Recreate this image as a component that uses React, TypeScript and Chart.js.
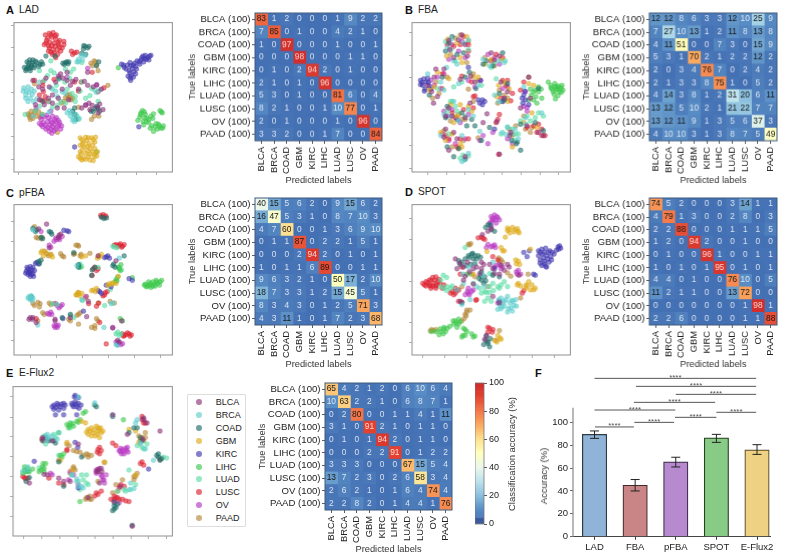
import React, { useEffect, useRef } from "react";
import { Chart, registerables } from "chart.js";

Chart.register(...registerables);

const FONT = "'Liberation Sans', Arial, sans-serif";
const classes = ["BLCA", "BRCA", "COAD", "GBM", "KIRC", "LIHC", "LUAD", "LUSC", "OV", "PAAD"];
const rowLabels = classes.map((c) => `${c} (100)`);
const classColors = ["138,50,120", "95,205,205", "30,110,105", "222,170,25", "65,55,175", "60,200,75", "90,220,165", "220,35,50", "185,55,195", "180,135,55"];

const matrixA = [
  [83, 1, 2, 0, 0, 0, 1, 9, 2, 2],
  [7, 85, 0, 1, 0, 0, 4, 2, 1, 0],
  [1, 0, 97, 0, 0, 0, 1, 0, 0, 1],
  [0, 0, 0, 98, 0, 0, 0, 1, 1, 0],
  [0, 1, 0, 2, 94, 2, 0, 1, 0, 0],
  [2, 1, 0, 1, 0, 96, 0, 0, 0, 0],
  [5, 3, 0, 1, 0, 0, 81, 6, 0, 4],
  [8, 2, 1, 0, 0, 1, 10, 77, 0, 1],
  [2, 0, 1, 0, 0, 0, 1, 0, 96, 0],
  [3, 3, 2, 0, 0, 1, 7, 0, 0, 84],
];
const matrixB = [
  [12, 12, 8, 6, 3, 3, 12, 10, 25, 9],
  [7, 27, 10, 13, 1, 2, 11, 8, 13, 8],
  [4, 11, 51, 0, 0, 7, 3, 0, 15, 9],
  [5, 3, 1, 70, 2, 1, 2, 2, 12, 2],
  [2, 0, 3, 4, 76, 7, 0, 2, 4, 2],
  [2, 1, 3, 3, 8, 75, 1, 0, 5, 2],
  [4, 14, 3, 8, 1, 2, 31, 20, 6, 11],
  [13, 12, 5, 10, 2, 1, 21, 22, 7, 7],
  [13, 12, 11, 9, 1, 3, 5, 6, 37, 3],
  [4, 10, 10, 3, 1, 3, 8, 7, 5, 49],
];
const matrixC = [
  [40, 15, 5, 6, 2, 0, 9, 15, 6, 2],
  [16, 47, 5, 3, 1, 0, 8, 7, 10, 3],
  [4, 7, 60, 0, 0, 1, 3, 6, 9, 10],
  [0, 1, 1, 87, 0, 2, 2, 1, 5, 1],
  [0, 0, 0, 2, 94, 2, 0, 1, 0, 1],
  [1, 0, 1, 1, 6, 89, 0, 0, 1, 1],
  [9, 6, 3, 2, 1, 0, 50, 17, 2, 10],
  [18, 7, 3, 3, 1, 2, 15, 45, 5, 1],
  [8, 3, 4, 3, 0, 1, 2, 5, 71, 3],
  [4, 3, 11, 1, 0, 1, 7, 2, 3, 68],
];
const matrixD = [
  [74, 5, 2, 0, 0, 0, 3, 14, 1, 1],
  [4, 79, 1, 3, 0, 0, 2, 8, 0, 3],
  [2, 2, 88, 0, 0, 0, 1, 1, 1, 5],
  [1, 2, 0, 94, 2, 0, 0, 1, 0, 0],
  [0, 1, 0, 0, 96, 1, 0, 0, 1, 1],
  [1, 0, 1, 0, 1, 95, 0, 1, 0, 1],
  [4, 4, 0, 1, 0, 0, 76, 10, 0, 5],
  [11, 2, 1, 1, 0, 0, 13, 72, 0, 0],
  [0, 0, 0, 0, 0, 0, 0, 1, 98, 1],
  [2, 2, 6, 0, 0, 0, 0, 1, 1, 88],
];
const matrixE = [
  [65, 4, 2, 1, 2, 0, 6, 10, 6, 4],
  [10, 63, 2, 2, 1, 0, 6, 8, 7, 1],
  [0, 2, 80, 0, 0, 1, 1, 4, 1, 11],
  [3, 1, 0, 91, 2, 1, 0, 1, 1, 0],
  [0, 1, 0, 1, 94, 2, 0, 1, 1, 0],
  [0, 0, 0, 2, 2, 91, 0, 1, 2, 2],
  [3, 3, 3, 0, 0, 0, 67, 15, 5, 4],
  [13, 7, 2, 3, 0, 2, 6, 58, 3, 4],
  [2, 6, 2, 1, 0, 1, 6, 4, 74, 4],
  [2, 2, 8, 2, 0, 1, 4, 4, 1, 76],
];

// t-SNE embeddings, one flat x,y list per class, in arbitrary embedding units
const tsneA = [
  [185,215,178,222,192,228,205,235,170,240,150,255,130,262,215,250,240,262,268,250,296,248,310,262,282,312,298,318,272,305,262,312,232,232,120,295,108,310,148,290,190,262,205,210,160,305,175,320,300,335,268,210,196,320,100,235,140,228,222,238,258,238,285,255,160,280,178,290,210,295,250,320,275,325,305,308,315,325,135,310,118,255],
  [72,258,80,268,78,280,88,272,95,262,92,290,85,300,104,268,205,335,215,345,225,352,232,340,228,362,240,170,248,158,240,178,100,345,295,272,305,265,120,240,190,270,170,268,150,332,260,158,112,292,70,268,85,255,78,290,98,278,102,300,218,335,222,358,242,352,212,328,235,178,252,172,155,258,175,285,200,275],
  [82,178,90,172,98,180,86,190,95,195,80,200,92,205,105,188,112,180,122,186,130,185,100,172,78,205,200,180,208,184,196,186,204,178,260,130,268,135,255,138,250,152,262,155,290,322,300,322,278,330,228,320,228,340,180,228,295,190,302,178,140,160,168,160,88,182,96,188,104,196,84,196,90,198,108,176,118,192,126,178,74,195,192,182,210,178,256,128,272,130,285,330,296,315,305,330,222,330,232,355,130,300],
  [245,412,265,420,280,412,292,410,255,425,272,430,290,425,245,435,258,440,275,445,245,455,262,460,282,455,298,455,240,470,255,475,270,470,288,470,250,480,285,482,296,468,262,410,250,418,270,412,285,418,252,432,268,438,283,435,252,448,268,452,290,445,248,462,275,462,290,462,262,478,275,480,245,475],
  [372,185,380,195,390,188,398,180,412,182,415,192,405,198,395,205,410,208,402,220,392,222,415,215,400,235,420,175,432,172,438,160,445,158,452,165,462,158,448,170,440,178,428,185,228,440,425,378,378,188,386,200,400,190,408,188,398,212,408,225,398,228,418,200,426,178,442,168,458,160,456,172,434,165],
  [436,328,445,340,428,348,422,358,438,362,450,352,462,345,470,338,455,365,465,375,478,368,488,375,498,382,482,385,470,392,490,328,497,335,440,372,430,340,362,196,295,455,432,335,442,350,448,362,456,355,442,332,468,352,460,382,475,378,492,382,485,370,500,375,494,332],
  [155,205,165,212,145,220,200,200,215,210,225,200,172,250,160,262,185,300,200,305,150,300,130,340,230,300,250,240,220,275,245,268,300,300,280,260,290,265,108,328,76,340,240,355,235,345,155,175,250,180,120,205,135,235,180,232,198,240,212,228,120,315,160,318,175,312,205,262,230,285,262,290,275,282],
  [138,95,150,90,162,88,172,95,145,105,158,102,170,108,182,112,195,115,140,120,152,118,165,120,178,125,190,135,150,135,162,140,175,140,135,125,160,155,170,165,185,145,218,145,228,150,235,148,105,235,130,240,132,270,125,295,138,285,165,232,248,240,228,240,300,270,282,210,318,258,148,300,142,112,155,95,168,98,178,118,148,128,158,128,168,130,182,132,195,125,155,148,176,155,165,150,148,145,222,155,130,250,135,298,120,280,240,268],
  [125,355,135,348,148,350,160,345,172,350,120,368,132,365,145,362,158,365,170,362,182,365,130,378,145,380,160,378,175,378,188,375,150,392,165,390,110,320,262,310,295,250,268,198,155,330,205,225,128,345,142,342,155,358,168,355,178,358,126,372,138,372,152,372,165,370,180,372,140,385,155,385,170,385,185,385,158,398],
  [85,338,95,330,105,335,118,332,128,340,90,348,100,352,112,345,205,280,215,285,208,292,195,300,218,295,288,175,295,188,282,190,300,205,288,345,280,355,302,345,330,250,188,305,175,395,105,245,240,318,88,342,98,342,108,328,122,348,92,355,200,288,212,278,222,290,292,178,278,182],
];
const tsneB = [
  [165,112,205,95,215,125,180,165,295,150,320,160,125,200,112,270,118,305,150,200,232,222,245,240,325,240,345,270,410,225,385,320,165,320,175,345,215,350,155,385,190,415,165,450,270,365,282,338,312,362,405,375,440,395,352,405,320,462,195,110,168,140,222,160,305,172,120,225,130,285,200,232,335,290,415,290,155,345,230,305,150,410,180,395,215,470,355,395,455,405],
  [160,135,225,110,190,185,270,170,335,180,158,195,140,240,195,245,305,280,180,300,150,340,225,325,240,345,345,380,330,395,368,385,378,415,212,480,205,485,225,460,400,350,450,335,260,392,340,402,172,108,210,120,180,175,290,190,320,175,100,215,150,265,255,250,318,300,395,255,170,345,195,360,140,405,205,405,400,370,362,402],
  [175,100,210,150,300,190,280,175,155,145,145,225,228,210,248,260,320,275,335,295,160,315,205,335,220,375,245,375,372,430,385,450,358,420,160,440,180,470,430,365,265,420,290,380,165,120,190,155,330,150,270,185,105,280,215,225,345,245,440,260,235,355,155,350,195,445,215,478,385,370,455,390,375,425],
  [190,120,158,160,200,165,325,170,275,185,120,255,165,230,240,225,318,250,350,262,345,300,200,310,225,315,235,330,180,365,140,395,175,400,200,430,360,440,410,245,420,335,395,365,162,108,220,100,205,180,295,170,130,210,105,265,255,225,335,240,312,285,425,250,190,345,170,310,155,420,205,440,360,405,435,380],
  [78,235,88,230,95,240,85,250,100,228,92,262,105,252,395,280,400,295,392,305,268,295,260,305,275,300,305,385,262,235,82,242,90,268,398,268,110,262,78,248,102,240,390,290,410,310,255,295,268,310,330,300,225,195,190,355],
  [478,250,490,245,500,252,510,258,482,262,495,265,505,270,515,265,488,278,500,282,492,292,470,240,418,280,430,265,425,295,440,270,415,262,448,262,432,285,495,255,485,270,505,258,498,262,510,272,478,258,490,255,512,250,425,270,410,295,435,305,450,290,440,255],
  [172,140,225,140,305,180,338,175,205,240,180,255,310,230,170,300,185,315,160,330,345,378,360,385,325,400,370,400,378,400,208,465,225,468,430,350,455,345,415,360,385,360,175,300,185,175,155,115,295,195,130,260,265,250,330,300,190,330,215,345,165,400,355,400,368,420,200,475,405,345,440,335],
  [210,100,200,125,225,145,160,125,310,155,330,165,145,215,235,240,330,235,340,250,325,290,315,355,310,365,320,340,210,325,185,350,240,285,165,415,200,415,225,415,440,370,450,385,435,395,460,405,385,265,360,275,245,283,318,463,180,130,225,125,295,175,100,250,205,222,345,235,355,298,395,240,175,335,240,320,155,405,190,440,405,380,425,375,450,405],
  [175,125,195,145,215,165,285,155,305,165,130,225,150,215,110,235,225,235,262,235,330,260,395,315,405,330,160,345,175,325,225,340,145,400,185,430,165,420,260,420,285,430,300,395,345,415,205,115,165,170,320,185,120,250,140,260,245,255,345,255,400,270,405,318,150,330,200,365,215,415,360,430,270,405],
  [185,105,170,155,220,180,305,190,125,240,135,275,115,290,240,215,225,262,320,265,335,280,345,290,215,355,240,300,195,340,150,390,175,440,195,445,255,412,350,385,420,380,400,385,410,225,225,115,200,95,275,165,145,260,160,225,255,235,315,305,395,345,170,360,205,355,210,420,370,375,415,395],
];
const tsneC = [
  [142,107,118,122,178,150,92,395,98,400,110,410,168,400,215,395,265,392,185,138,150,180,360,465,300,205,372,405,345,427,355,220,270,345,100,395,88,400,168,405,180,142,365,470],
  [88,330,95,328,100,335,92,340,250,340,115,418,100,125,365,212,318,425,340,352,355,478,235,235,85,335,98,342,95,330,360,480,345,350],
  [310,86,318,90,326,88,100,120,108,130,150,130,158,138,130,152,118,222,125,218,345,235,352,240,380,205,290,240,280,265,225,195,240,240,93,335,190,395,215,385,112,125,155,132,125,148,120,228,348,230,282,248,240,232,95,330],
  [305,208,298,212,310,200,285,310,295,305,240,322,250,320,232,325,335,290,345,288,355,290,140,195,128,190,160,208,132,205,250,208,262,205,362,268,302,205,292,315,280,312,245,328,238,318,330,295,342,292,125,195,155,202],
  [85,245,92,238,100,240,80,252,88,255,95,262,105,250,92,250,100,260,85,262,118,230,108,228,195,126,210,130,330,205,320,210,335,212,300,312,310,320,340,300,325,295,395,275,405,280,192,398,255,375,82,240,98,248,90,258,78,258,102,268,92,268,112,225,205,128,325,208,305,315],
  [445,292,452,298,460,290,468,285,478,280,490,285,488,295,475,298,462,302,455,285,360,270,358,282,352,285,368,250,362,240,375,405,368,398,245,240,405,272,370,232,448,300,458,295,472,292,482,290,468,298,480,285,442,295,495,280,355,278,365,245],
  [350,178,358,180,372,248,245,230,240,235,300,240,338,308,320,358,215,388,225,395,360,440,370,445,252,342,160,352,175,355,345,175,365,240,250,238,365,450,355,445],
  [308,80,316,78,324,82,355,170,365,172,375,175,380,170,372,178,290,240,300,245,282,265,322,318,315,328,328,315,271,352,302,350,295,360,375,445,385,448,395,445,402,448,378,452,325,476,110,398,305,410,312,84,320,86,360,175,368,168,350,172,285,245,295,250,320,325,380,450,390,442,398,452],
  [125,130,172,155,180,148,190,145,165,160,150,172,155,178,175,358,185,360,190,355,155,378,150,385,165,420,172,420,178,418,360,478,370,478,355,470,345,425,262,330,182,155,170,150,180,365,170,352,158,385,145,382,168,425,175,425,362,472,375,475],
  [105,115,115,150,128,148,135,190,148,205,185,198,195,208,225,200,232,172,240,175,245,205,275,197,240,318,260,335,100,352,122,352,120,362,155,355,165,352,135,385,215,405,240,385,245,380,240,415,295,398,290,428,280,425,337,345,350,350,300,350,115,405,110,148,125,152,142,198,155,200,190,205,228,198,238,172,248,200,235,325,265,330,105,358,115,348,150,350,130,380,210,400,235,388,290,420,300,405],
];
const tsneD = [
  [198,228,210,240,190,245,228,255,250,240,272,232,300,245,320,262,335,250,345,232,280,450,275,462,295,122,285,130,265,225,240,292,215,268,300,330,200,345,380,265,320,350,268,140,185,215,222,225,265,245,290,232,325,235,260,260,210,280,240,245,350,240,305,260],
  [205,355,230,340,315,370,325,335,335,345,345,330,358,342,370,340,320,355,335,360,348,368,360,375,345,378,355,365,372,360,325,368,250,300,190,310,300,225,270,265,225,240,208,262,330,350,340,340,352,350,365,358,328,362,318,340,362,345,275,300,210,290],
  [235,200,245,205,228,210,240,215,250,215,195,220,205,225,218,235,232,232,262,265,275,270,265,280,272,290,285,110,295,125,305,130,280,452,285,475,278,465,290,485,205,350,320,270,245,230,300,265,225,205,238,198,255,205,262,210,200,232,215,215,265,255,258,275,278,282,292,110,278,118,285,470,292,460,272,478],
  [345,120,360,118,375,122,380,135,352,135,365,132,338,148,325,180,335,190,372,230,382,232,370,218,410,285,420,295,405,298,430,305,415,310,375,295,385,298,315,450,325,462,305,465,415,185,282,192,240,262,350,125,368,125,378,130,345,128,330,190,378,222,402,295,425,310,400,305,378,290,322,458,312,470],
  [440,190,450,185,462,182,475,190,440,205,452,200,465,205,478,208,488,200,445,218,458,222,472,225,450,235,462,238,500,178,508,182,495,188,405,208,412,190,395,195,425,262,430,265,305,245,320,345,445,195,458,195,470,195,482,195,455,212,468,215,480,218,445,228,458,230,465,240,502,185,505,175],
  [112,438,125,438,138,430,150,430,148,445,135,448,168,422,185,405,195,400,180,415,195,415,210,428,220,438,235,445,245,452,215,450,205,455,220,262,150,425,140,438,155,438,160,428,188,412,178,405,200,408,190,425,215,432,240,455,208,450],
  [148,265,158,272,150,305,158,312,170,305,140,300,265,320,275,315,290,300,315,300,325,295,335,285,295,345,285,335,260,305,240,290,215,180,290,260,300,262,230,260,140,280,160,300,175,298,280,318,302,312,290,318,320,305,300,290,345,300,275,345],
  [85,290,95,285,105,280,115,272,125,270,135,278,95,298,105,295,118,290,128,295,138,290,110,305,125,305,150,295,175,315,185,320,195,310,180,325,255,150,265,148,275,155,195,345,205,348,250,340,248,342,395,312,390,320,290,428,298,440,285,440,205,240,200,262,300,208,315,218,90,295,100,288,110,280,122,280,132,285,108,298,115,298,125,298,145,305,170,320,190,312,185,305,270,152,285,425,300,432],
  [295,85,305,80,315,88,300,95,320,95,310,105,290,105,300,175,285,170,280,180,308,180,225,320,235,315,215,325,240,310,305,240,320,232,330,240,378,250,385,262,375,262,320,345,315,350,295,115,225,305,300,90,312,85,295,100,308,95,295,178,305,172,228,325,222,315,310,235,325,245,372,255],
  [118,435,108,436,125,432,220,372,230,372,215,385,212,398,318,212,325,218,330,225,225,170,232,168,285,300,205,300,245,270,355,268,345,258,385,335,408,262,320,435,310,465,235,262,112,432,220,378,218,390,205,405,320,222,228,172],
];
const tsneE = [
  [130,200,160,205,240,215,300,293,312,300,490,175,405,468,345,125,440,135,450,150,135,308,180,320,215,330,350,392,300,300,270,380,390,185,437,200,90,335,305,335,368,345,145,310,195,330,310,290,295,300,440,140,130,195],
  [140,190,150,195,175,200,180,180,240,70,290,88,420,140,430,215,445,230,395,355,410,352,240,345,255,350,70,298,85,285,345,125,220,310,235,322,470,265,400,335,140,205,145,185,160,190,85,295,430,210,415,150,250,345,235,330],
  [130,205,150,205,170,212,290,95,345,130,395,180,410,165,430,195,480,250,490,265,485,255,80,330,90,318,350,405,345,420,360,400,195,345,250,255,350,415,295,100,405,465,180,270,140,195,165,205,420,165,435,205,495,260,485,245,355,410,350,395],
  [270,170,280,165,295,160,308,165,315,175,285,180,298,185,270,185,305,195,250,145,262,150,430,200,425,210,395,170,415,175,128,200,205,210,320,270,415,310,185,265,220,295,275,175,288,172,300,175,310,180,280,190,292,190,305,170,265,178,300,165],
  [165,95,175,90,185,100,195,90,165,108,180,110,195,105,220,90,230,85,240,90,225,100,235,100,248,95,230,65,240,72,170,125,195,125,235,125,230,210,238,225,105,268,240,350,455,292,160,100,170,102,178,95,188,92,200,95,222,95,232,92,242,105,228,70],
  [205,155,215,150,225,160,235,145,245,140,210,165,255,120,262,115,185,250,195,245,75,295,85,290,130,285,140,275,125,295,135,300,70,305,245,392,378,140,180,180,190,255,100,292,90,300,212,158,222,152,240,148,75,285,85,298,135,290,132,275,120,300,78,300],
  [150,200,165,185,140,215,215,165,265,310,255,325,245,355,270,340,380,355,400,355,415,340,435,225,450,215,500,255,510,258,85,300,120,288,180,250,135,190,395,295,240,330,170,195,220,310,250,310,265,335,420,220,440,230,360,360,385,360],
  [75,318,85,320,195,340,150,320,205,235,305,225,310,235,298,240,345,212,355,220,435,130,445,150,430,275,440,280,370,340,380,345,365,350,350,375,365,385,385,390,395,392,300,370,290,375,340,385,440,150,490,262,135,205,305,245,70,315,78,322,180,335,205,232,300,232,355,380,350,385,360,380,375,385,310,360,295,365,435,140,435,270],
  [365,235,375,232,385,228,380,245,392,240,372,245,300,295,295,305,310,310,315,325,320,335,325,310,215,300,225,310,210,325,155,305,240,340,390,225,365,395,160,310,368,238,378,238,388,235,370,228,295,295,305,290,312,315,318,325],
  [265,380,280,385,205,215,225,235,255,250,270,255,280,250,225,290,215,305,415,315,420,305,225,285,320,272,180,265,435,195,440,205,445,180,410,325,275,375,300,330,360,360,375,325,345,365,245,240,212,220,235,238,265,245,270,248,262,385,275,385,355,340,410,315,430,205,445,195,425,190,230,295],
];

const barLabels = ["LAD", "FBA", "pFBA", "SPOT", "E-Flux2"];
const barValues = [89.5, 45, 65.5, 86.5, 76];
const barLow = [86, 40, 61, 82.5, 72];
const barHigh = [92.5, 50, 69.5, 89.5, 80.5];
const barFill = ["#8fb4d8", "#c98585", "#b78ad0", "#87cb86", "#eed183"];
const barEdge = ["#2f3a45", "#46282a", "#3c2a4a", "#24421f", "#5a4c28"];
const sigStart = [0, 1.02, 2, 0.97, 0, 3, 1.98, 0.98, 0.01];
const sigEnd = [3.98, 3.98, 3.98, 2.97, 1.99, 3.98, 3, 1.96, 0.97];
const sigLevel = [138.5, 131.5, 124.5, 117.5, 110.8, 108.8, 104.4, 100, 96];

const colorStops: number[][] = [
  [0, 68, 112, 180], [10, 88, 140, 196], [20, 140, 192, 222], [30, 188, 226, 236], [40, 235, 247, 235],
  [50, 255, 255, 190], [60, 254, 224, 144], [70, 251, 170, 95], [80, 244, 118, 72], [90, 228, 68, 48], [100, 205, 40, 42],
];
function heat(v: number): string {
  for (let i = 1; i < colorStops.length; i++) {
    const a = colorStops[i - 1], b = colorStops[i];
    if (v <= b[0]) {
      const t = (v - a[0]) / (b[0] - a[0]);
      return `rgb(${[1, 2, 3].map((k) => Math.round(a[k] + (b[k] - a[k]) * t)).join(",")})`;
    }
  }
  return "rgb(205,40,42)";
}

const fixAxis = (size: number, horizontal: boolean) => (s: any) => {
  if (horizontal) s.height = size; else s.width = size;
  s.paddingLeft = s.paddingRight = s.paddingTop = s.paddingBottom = 0;
};
const setTicks = (values: number[]) => (s: any) => { s.ticks = values.map((value) => ({ value })); };

const framePlugin = (color: string, lw: number) => ({
  id: "frame",
  afterDraw(c: any) {
    const { left, top, width, height } = c.chartArea;
    const g = c.ctx;
    g.save(); g.strokeStyle = color; g.lineWidth = lw; g.strokeRect(left, top, width, height); g.restore();
  },
});

function scatterConfig(points: number[][], xr: number[], yr: number[], xt: number[], yt: number[]) {
  const datasets = points.map((flat, k) => {
    const data: { x: number; y: number }[] = [];
    for (let i = 0; i < flat.length; i += 2) data.push({ x: flat[i], y: flat[i + 1] });
    return {
      label: classes[k], data, pointRadius: 2.4, pointBorderWidth: 0.6,
      backgroundColor: `rgba(${classColors[k]},0.6)`, borderColor: `rgba(${classColors[k]},0.55)`,
    };
  });
  const tickGrid = { drawOnChartArea: false, drawTicks: true, tickLength: 3, color: "#999", lineWidth: 0.8 };
  return {
    type: "scatter",
    data: { datasets },
    options: {
      responsive: false, animation: false, layout: { padding: { top: 1, right: 1 } },
      plugins: { legend: { display: false }, tooltip: { enabled: false } },
      scales: {
        x: { type: "linear", min: xr[0], max: xr[1], grid: tickGrid, border: { display: false },
          ticks: { callback: () => "", padding: 0, autoSkip: false, maxRotation: 0 }, afterBuildTicks: setTicks(xt), afterFit: fixAxis(6, true) },
        y: { type: "linear", reverse: true, min: yr[0], max: yr[1], grid: tickGrid, border: { display: false },
          ticks: { callback: () => "", padding: 0, autoSkip: false }, afterBuildTicks: setTicks(yt), afterFit: fixAxis(6, false) },
      },
    },
    plugins: [framePlugin("#999", 1.1)],
  };
}

function heatConfig(matrix: number[][]) {
  const datasets = classes.map((c, j) => ({
    label: c, data: rowLabels.map(() => 1), backgroundColor: matrix.map((row) => heat(row[j])),
    barPercentage: 1, categoryPercentage: 1, borderWidth: 0,
  }));
  const cellText = {
    id: "cellText",
    beforeDatasetsDraw(c: any) {
      const { left, top, width, height } = c.chartArea;
      c.ctx.save(); c.ctx.fillStyle = "#4c7cbc"; c.ctx.fillRect(left, top, width, height); c.ctx.restore();
    },
    afterDatasetsDraw(c: any) {
      const g = c.ctx, xs = c.scales.x, ys = c.scales.y;
      g.save();
      g.font = `8.4px ${FONT}`; g.textAlign = "center"; g.textBaseline = "middle";
      matrix.forEach((row, i) => row.forEach((v, j) => {
        g.fillStyle = v <= 10 || v >= 90 ? "rgba(255,255,255,0.8)" : "#1a1a1a";
        g.fillText(String(v), xs.getPixelForValue(j + 0.5), ys.getPixelForValue(i) - 0.4);
      }));
      g.restore();
    },
  };
  const labelFont = { family: FONT, size: 9.3 };
  const tickGrid = { drawOnChartArea: false, drawTicks: true, tickLength: 3, color: "#333", lineWidth: 0.8 };
  return {
    type: "bar",
    data: { labels: rowLabels, datasets },
    options: {
      indexAxis: "y", responsive: false, animation: false, layout: { padding: { top: 1, right: 1 } },
      plugins: { legend: { display: false }, tooltip: { enabled: false } },
      scales: {
        x: { type: "linear", stacked: true, min: 0, max: 10, grid: tickGrid, border: { display: false },
          ticks: { callback: (v: number) => classes[Math.floor(v)], autoSkip: false, minRotation: 90, maxRotation: 90, padding: 3, color: "#222", font: { family: FONT, size: 9.4 } },
          afterBuildTicks: setTicks(classes.map((_, j) => j + 0.5)),
          title: { display: true, text: "Predicted labels", color: "#333", font: labelFont, padding: 0 }, afterFit: fixAxis(45, true) },
        y: { stacked: true, grid: { ...tickGrid, offset: false }, border: { display: false },
          ticks: { autoSkip: false, padding: 1.5, color: "#222", font: { family: FONT, size: 9.6 } },
          title: { display: true, text: "True labels", color: "#333", font: labelFont, padding: 0 }, afterFit: fixAxis(68, false) },
      },
    },
    plugins: [cellText, framePlugin("#3e5a7c", 1)],
  };
}

function colorbarConfig() {
  const levels = Array.from({ length: 100 }, (_, i) => i);
  return {
    type: "bar",
    data: {
      labels: ["scale"],
      datasets: levels.map((l) => ({ data: [1], backgroundColor: l < 4 ? "rgb(60,90,160)" : heat(l + 0.5), barPercentage: 1, categoryPercentage: 1, borderWidth: 0 })),
    },
    options: {
      responsive: false, animation: false, layout: { padding: { top: 6, bottom: 6 } },
      plugins: { legend: { display: false }, tooltip: { enabled: false } },
      scales: {
        x: { stacked: true, display: false },
        y: { stacked: true, position: "right", min: 0, max: 100, grid: { drawOnChartArea: false, drawTicks: true, tickLength: 3, color: "#333", lineWidth: 0.8 },
          border: { display: false }, ticks: { stepSize: 20, padding: 2, color: "#222", font: { family: FONT, size: 9 } }, afterFit: fixAxis(24, false) },
      },
    },
    plugins: [framePlugin("#777", 0.8)],
  };
}

function barConfig() {
  const extras = {
    id: "extras",
    afterDatasetsDraw(c: any) {
      const g = c.ctx, xs = c.scales.x, ys = c.scales.y;
      g.save();
      barValues.forEach((_, i) => {
        const x = xs.getPixelForValue(i), hi = ys.getPixelForValue(barHigh[i]), lo = ys.getPixelForValue(barLow[i]);
        g.strokeStyle = "#222"; g.lineWidth = 1;
        g.beginPath();
        g.moveTo(x, hi); g.lineTo(x, lo);
        g.moveTo(x - 4.5, hi); g.lineTo(x + 4.5, hi);
        g.moveTo(x - 4.5, lo); g.lineTo(x + 4.5, lo);
        g.stroke();
      });
      g.font = `8px ${FONT}`; g.textAlign = "center"; g.textBaseline = "alphabetic"; g.fillStyle = "#555";
      sigLevel.forEach((lv, i) => {
        g.fillText("****", xs.getPixelForValue((sigStart[i] + sigEnd[i]) / 2), ys.getPixelForValue(lv) + 1.5);
      });
      g.restore();
    },
  };
  const sigSets = sigLevel.map((lv, i) => ({
    type: "line", data: [{ x: sigStart[i], y: lv }, { x: sigEnd[i], y: lv }], borderColor: "#555", borderWidth: 1, pointRadius: 0, clip: false,
  }));
  const spine = { type: "line", data: [{ x: -0.53, y: 0 }, { x: -0.53, y: 112.8 }], borderColor: "#888", borderWidth: 1.2, pointRadius: 0, clip: false };
  const tickFont = { family: FONT, size: 9.5 };
  return {
    type: "bar",
    data: {
      datasets: [
        { type: "bar", data: barValues.map((y, x) => ({ x, y })), backgroundColor: barFill, borderColor: barEdge, borderWidth: 1.2, barThickness: 24.4 },
        ...sigSets, spine,
      ],
    },
    options: {
      responsive: false, animation: false, layout: { padding: { right: 17 } },
      plugins: { legend: { display: false }, tooltip: { enabled: false } },
      scales: {
        x: { type: "linear", offset: false, min: -0.53, max: 4.32, grid: { offset: false, drawOnChartArea: false, drawTicks: true, tickLength: 3, color: "#333" },
          border: { display: true, color: "#444", width: 1 },
          ticks: { callback: (v: number) => barLabels[v], autoSkip: false, maxRotation: 0, padding: 1.5, color: "#222", font: tickFont },
          afterBuildTicks: setTicks(barLabels.map((_, i) => i)), afterFit: fixAxis(19.3, true) },
        y: { min: 0, max: 145.8, grid: { drawOnChartArea: false, drawTicks: true, tickLength: 3, color: "#666" }, border: { display: false },
          ticks: { padding: 2, color: "#222", font: tickFont }, afterBuildTicks: setTicks([0, 20, 40, 60, 80, 100]), afterFit: fixAxis(33, false) },
      },
    },
    plugins: [extras],
  };
}

function Plot({ left, top, width, height, make }: { left: number; top: number; width: number; height: number; make: () => any }) {
  const ref = useRef<HTMLCanvasElement>(null);
  useEffect(() => {
    const chart = new Chart(ref.current as HTMLCanvasElement, make());
    return () => chart.destroy();
  }, []);
  return <canvas ref={ref} width={width} height={height} style={{ position: "absolute", left, top, width, height, display: "block" }} />;
}

function Scatter({ f, points, xr, yr, xt, yt }: { f: number[]; points: number[][]; xr: number[]; yr: number[]; xt: number[]; yt: number[] }) {
  return <Plot left={f[0] - 6} top={f[1] - 1} width={f[2] - f[0] + 7} height={f[3] - f[1] + 7} make={() => scatterConfig(points, xr, yr, xt, yt)} />;
}
function Heat({ x, y, matrix }: { x: number; y: number; matrix: number[][] }) {
  return <Plot left={x - 68} top={y - 1} width={127.4 + 69} height={127.4 + 46} make={() => heatConfig(matrix)} />;
}
function Title({ x, x2, base, tag, text }: { x: number; x2: number; base: number; tag: string; text: string }) {
  const s: React.CSSProperties = { position: "absolute", top: base - 10, lineHeight: "12px", whiteSpace: "nowrap", color: "#222" };
  return (
    <>
      <div style={{ ...s, left: x, fontWeight: 700, fontSize: 11, color: "#111" }}>{tag}</div>
      <div style={{ ...s, left: x2, fontSize: 10.2 }}>{text}</div>
    </>
  );
}
function VText({ cx, cy, size, text }: { cx: number; cy: number; size: number; text: string }) {
  return (
    <div style={{ position: "absolute", left: cx, top: cy, fontSize: size, color: "#333", whiteSpace: "nowrap", lineHeight: "12px", transform: "translate(-50%,-50%) rotate(-90deg)" }}>{text}</div>
  );
}

const legendRows = [402, 415, 427.7, 440.7, 453.7, 466.7, 479.3, 492.3, 505.3, 518.3];

export default function App() {
  useEffect(() => { document.body.style.margin = "0"; }, []);
  return (
    <div style={{ position: "absolute", left: 0, top: 0, width: 787, height: 556, background: "#fff", overflow: "hidden", fontFamily: FONT }}>
      <Title x={6} x2={19} base={14} tag="A" text="LAD" />
      <Title x={405} x2={418} base={14} tag="B" text="FBA" />
      <Title x={6} x2={19} base={196.5} tag="C" text="pFBA" />
      <Title x={405} x2={418} base={196} tag="D" text="SPOT" />
      <Title x={6} x2={19} base={377} tag="E" text="E-Flux2" />
      <Title x={535} x2={548} base={377} tag="F" text="" />

      <Scatter f={[14, 19, 176, 172]} points={tsneA} xr={[42, 528]} yr={[57, 517]} xt={[57, 117, 178, 238, 298, 358, 418, 478]} yt={[65, 135, 204, 272, 340, 408, 477]} />
      <Scatter f={[412.3, 19, 574.3, 172]} points={tsneB} xr={[52, 538]} yr={[57, 517]} xt={[100, 157, 214, 272, 329, 387, 445, 502]} yt={[87, 157, 226, 296, 365, 435, 505]} />
      <Scatter f={[14, 200.7, 176, 355]} points={tsneC} xr={[42, 528]} yr={[47, 510]} xt={[92, 172, 252, 332, 412, 492]} yt={[100, 160, 221, 283, 343, 405, 465]} />
      <Scatter f={[412.3, 201, 574.3, 355]} points={tsneD} xr={[52, 538]} yr={[48, 510]} xt={[85, 152, 220, 287, 353, 420, 488]} yt={[92, 155, 220, 283, 345, 410, 473]} />
      <Scatter f={[13.3, 382.7, 176, 536]} points={tsneE} xr={[40, 528]} yr={[38, 498]} xt={[73, 128, 183, 238, 292, 347, 401, 455, 510]} yt={[70, 132, 193, 254, 315, 376, 437]} />

      <Heat x={255} y={13.3} matrix={matrixA} />
      <Heat x={649.3} y={13.3} matrix={matrixB} />
      <Heat x={255} y={197.7} matrix={matrixC} />
      <Heat x={649.3} y={197.7} matrix={matrixD} />
      <Heat x={325} y={383} matrix={matrixE} />

      <Plot left={475} top={376.7} width={33} height={153.3} make={colorbarConfig} />
      <VText cx={512} cy={454} size={9.5} text="Classification accuracy (%)" />

      <Plot left={540} top={370} width={247} height={186} make={barConfig} />
      <VText cx={544} cy={476} size={9.5} text="Accuracy (%)" />

      <div style={{ position: "absolute", left: 186.7, top: 394, width: 59, height: 133, border: "1px solid #ddd", boxSizing: "border-box", borderRadius: 1 }} />
      {classes.map((c, i) => (
        <React.Fragment key={c}>
          <div style={{ position: "absolute", left: 196.4, top: legendRows[i] - 2.9, width: 5.8, height: 5.8, borderRadius: "50%", background: `rgba(${classColors[i]},0.65)` }} />
          <div style={{ position: "absolute", left: 215.7, top: legendRows[i] - 6, fontSize: 9, lineHeight: "12px", color: "#222" }}>{c}</div>
        </React.Fragment>
      ))}
    </div>
  );
}
